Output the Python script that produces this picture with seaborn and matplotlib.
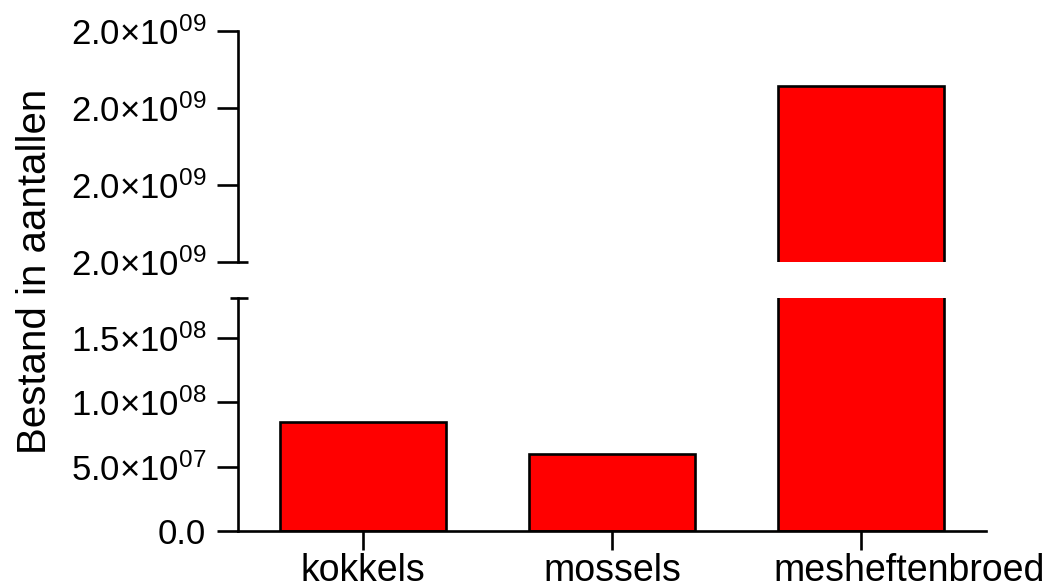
import numpy as np
import pandas as pd
import matplotlib
matplotlib.use("Agg")
import matplotlib.pyplot as plt
import matplotlib.transforms as mtransforms
from matplotlib.ticker import FuncFormatter, FixedLocator
import seaborn as sns

# Stock per species (number of individuals)
categories = ["kokkels", "mossels", "mesheftenbroed"]
counts = [8.5e7, 6.0e7, 2.0128e9]

# Axis segments of the broken y axis
lower_range = (0.0, 1.812e8)
lower_ticks = [0.0, 5.0e7, 1.0e8, 1.5e8]
upper_range = (1.99e9, 2.02e9)
upper_ticks = [1.99e9, 2.00e9, 2.01e9, 2.02e9]

ylabel = "Bestand in aantallen"

sns.set_style("ticks", {"axes.edgecolor": "black", "xtick.color": "black",
                        "ytick.color": "black", "text.color": "black",
                        "axes.labelcolor": "black"})
plt.rcParams["font.family"] = ["Liberation Sans", "DejaVu Sans"]
plt.rcParams["mathtext.fontset"] = "custom"
plt.rcParams["mathtext.rm"] = "Liberation Sans"
plt.rcParams["mathtext.it"] = "Liberation Sans:italic"
plt.rcParams["mathtext.bf"] = "Liberation Sans:bold"

df = pd.DataFrame({"soort": categories, "aantal": counts})

W, H = 1049, 588
fig = plt.figure(figsize=(W / 100, H / 100), dpi=100)
left, right = 238 / W, 986 / W
ax_lo = fig.add_axes([left, 1 - 531 / H, right - left, (531 - 298) / H])
ax_hi = fig.add_axes([left, 1 - 261.7 / H, right - left, (261.7 - 30.7) / H])


def sci_label(v, pos=None):
    if v == 0:
        return "0.0"
    e = int(np.floor(np.log10(abs(v))))
    m = v / 10 ** e
    return f"{m:.1f}×10$^{{\\mathrm{{{e:02d}}}}}$"


lw = 1.9
for ax in (ax_lo, ax_hi):
    sns.barplot(data=df, x="soort", y="aantal", ax=ax, color="#ff0000",
                saturation=1, width=0.667, edgecolor="black", linewidth=lw)
    ax.set_xlim(-0.5, 2.5)
    ax.set_xlabel("")
    ax.set_ylabel("")
    ax.yaxis.set_major_formatter(FuncFormatter(sci_label))
    ax.tick_params(axis="y", length=15, width=lw, labelsize=25, pad=8,
                   colors="black")
    for s in ("top", "right"):
        ax.spines[s].set_visible(False)
    ax.spines["left"].set_linewidth(lw)
    ax.spines["bottom"].set_linewidth(lw)
    ax.set_facecolor("white")

ax_lo.set_ylim(*lower_range)
ax_lo.yaxis.set_major_locator(FixedLocator(lower_ticks))
ax_lo.tick_params(axis="x", length=14, width=lw, labelsize=27, pad=2,
                  colors="black")

# the long last category name starts at its bar's left edge
last = ax_lo.get_xticklabels()[-1]
shift = mtransforms.ScaledTranslation(48 / 100, 0, fig.dpi_scale_trans)
last.set_transform(last.get_transform() + shift)

ax_hi.set_ylim(*upper_range)
ax_hi.yaxis.set_major_locator(FixedLocator(upper_ticks))
ax_hi.spines["bottom"].set_visible(False)
ax_hi.tick_params(axis="x", bottom=False, labelbottom=False)

# break caps on the y axis
cap = 10 / (right - left) / W
ax_hi.plot([0, cap], [0, 0], transform=ax_hi.transAxes, color="black",
           lw=lw, clip_on=False, solid_capstyle="butt")
ax_lo.plot([-8 / (right - left) / W, cap], [1, 1], transform=ax_lo.transAxes,
           color="black", lw=lw, clip_on=False, solid_capstyle="butt")

fig.text(35 / W, 1 - 271 / H, ylabel, rotation=90, ha="center", va="center",
         fontsize=29, color="black")

fig.savefig("out.png", dpi=100, facecolor="white")
